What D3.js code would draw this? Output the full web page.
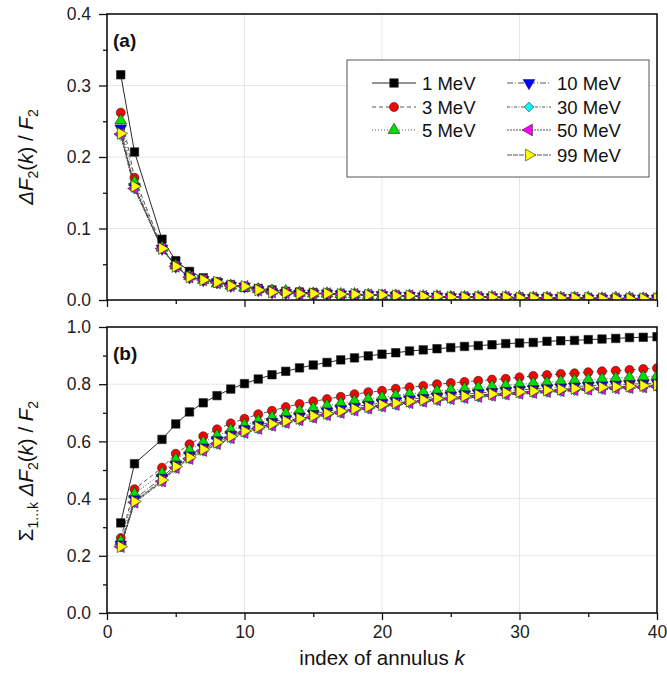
<!DOCTYPE html>
<html>
<head>
<meta charset="utf-8">
<script src="https://cdn.jsdelivr.net/npm/d3@7"></script>
<style>
  body { margin: 0; background: #fff; }
  text { font-family: Arial, "Liberation Sans", sans-serif; fill: #111; }
</style>
</head>
<body>
<div id="my_dataviz"></div>
<script>
// index of annulus (k = 3 is not in the data)
var ks = [1,2,4,5,6,7,8,9,10,11,12,13,14,15,16,17,18,19,20,21,22,23,24,25,26,27,28,29,30,31,32,33,34,35,36,37,38,39,40];

var energies = ["1 MeV","3 MeV","5 MeV","10 MeV","30 MeV","50 MeV","99 MeV"];

// panel (a): dF2(k)/F2
var dF_1  = [0.315,0.207,0.085,0.055,0.040,0.031,0.025,0.021,0.018,0.016,0.014,0.012,0.011,0.010,0.009,0.008,0.007,0.007,0.006,0.006,0.005,0.005,0.004,0.004,0.004,0.004,0.003,0.003,0.003,0.003,0.003,0.002,0.002,0.002,0.002,0.002,0.002,0.002,0.002];
var dF_3  = [0.262,0.171,0.074,0.048,0.034,0.028,0.024,0.021,0.018,0.016,0.014,0.012,0.011,0.010,0.009,0.008,0.008,0.007,0.006,0.006,0.005,0.005,0.005,0.004,0.004,0.004,0.004,0.003,0.003,0.003,0.003,0.003,0.003,0.003,0.003,0.002,0.002,0.002,0.002];
var dF_5  = [0.251,0.165,0.073,0.048,0.033,0.028,0.023,0.020,0.017,0.015,0.013,0.012,0.010,0.009,0.009,0.008,0.008,0.007,0.006,0.006,0.006,0.005,0.005,0.004,0.004,0.004,0.004,0.004,0.004,0.003,0.003,0.003,0.003,0.003,0.002,0.003,0.003,0.002,0.003];
var dF_10 = [0.240,0.158,0.072,0.047,0.032,0.028,0.025,0.020,0.019,0.014,0.011,0.010,0.009,0.009,0.009,0.008,0.008,0.007,0.007,0.006,0.006,0.005,0.005,0.004,0.004,0.004,0.004,0.004,0.003,0.003,0.003,0.003,0.003,0.002,0.002,0.002,0.002,0.002,0.002];
var dF_30 = [0.230,0.155,0.072,0.047,0.032,0.028,0.024,0.020,0.019,0.014,0.011,0.010,0.009,0.009,0.009,0.008,0.008,0.007,0.007,0.006,0.006,0.005,0.005,0.004,0.004,0.004,0.004,0.004,0.003,0.003,0.003,0.003,0.003,0.002,0.002,0.002,0.002,0.002,0.002];
var dF_50 = [0.232,0.156,0.072,0.047,0.032,0.028,0.024,0.020,0.019,0.014,0.011,0.010,0.009,0.009,0.009,0.008,0.008,0.007,0.007,0.006,0.006,0.005,0.005,0.004,0.004,0.004,0.004,0.004,0.003,0.003,0.003,0.003,0.003,0.002,0.002,0.002,0.002,0.002,0.002];
var dF_99 = [0.233,0.159,0.072,0.047,0.032,0.028,0.025,0.020,0.019,0.014,0.011,0.010,0.009,0.009,0.009,0.008,0.008,0.007,0.007,0.006,0.006,0.005,0.005,0.004,0.004,0.004,0.004,0.004,0.003,0.003,0.003,0.003,0.003,0.003,0.002,0.002,0.002,0.002,0.002];

// panel (b): sum over 1..k
var sum_1  = [0.315,0.522,0.607,0.661,0.703,0.735,0.760,0.783,0.802,0.818,0.833,0.845,0.857,0.867,0.876,0.885,0.892,0.899,0.905,0.910,0.916,0.920,0.924,0.928,0.932,0.935,0.938,0.942,0.944,0.946,0.950,0.952,0.953,0.956,0.958,0.960,0.963,0.964,0.966];
var sum_3  = [0.262,0.433,0.508,0.557,0.590,0.618,0.642,0.663,0.679,0.695,0.707,0.720,0.731,0.740,0.748,0.756,0.765,0.772,0.777,0.784,0.789,0.794,0.800,0.804,0.808,0.812,0.816,0.819,0.824,0.829,0.832,0.836,0.838,0.842,0.845,0.847,0.850,0.853,0.856];
var sum_5  = [0.251,0.416,0.489,0.537,0.569,0.597,0.620,0.640,0.657,0.672,0.685,0.697,0.707,0.716,0.725,0.733,0.741,0.748,0.754,0.760,0.766,0.771,0.776,0.780,0.784,0.788,0.792,0.796,0.800,0.803,0.806,0.810,0.813,0.816,0.818,0.821,0.824,0.826,0.829];
var sum_10 = [0.240,0.398,0.473,0.519,0.551,0.579,0.604,0.624,0.643,0.657,0.668,0.678,0.687,0.696,0.705,0.713,0.721,0.728,0.735,0.741,0.747,0.752,0.757,0.761,0.765,0.769,0.773,0.777,0.780,0.783,0.786,0.789,0.792,0.794,0.796,0.798,0.800,0.802,0.804];
var sum_30 = [0.230,0.385,0.458,0.505,0.537,0.565,0.589,0.609,0.628,0.642,0.653,0.663,0.672,0.681,0.690,0.698,0.706,0.713,0.720,0.726,0.732,0.737,0.742,0.746,0.750,0.754,0.758,0.762,0.765,0.768,0.771,0.774,0.777,0.779,0.781,0.783,0.785,0.787,0.789];
var sum_50 = [0.232,0.387,0.461,0.508,0.540,0.568,0.592,0.612,0.631,0.645,0.656,0.666,0.675,0.684,0.693,0.701,0.709,0.716,0.723,0.729,0.735,0.740,0.745,0.749,0.753,0.757,0.761,0.765,0.768,0.771,0.774,0.777,0.780,0.782,0.784,0.786,0.788,0.790,0.792];
var sum_99 = [0.232,0.390,0.465,0.512,0.544,0.572,0.597,0.617,0.636,0.650,0.661,0.671,0.680,0.689,0.698,0.706,0.714,0.721,0.728,0.734,0.740,0.745,0.750,0.754,0.758,0.762,0.766,0.770,0.773,0.776,0.779,0.782,0.785,0.787,0.789,0.791,0.793,0.795,0.797];

var xTicks = [0,10,20,30,40];
var yTicksA = [0.0,0.1,0.2,0.3,0.4];
var yTicksB = [0.0,0.2,0.4,0.6,0.8,1.0];

// look of each series
var colors = ["#000000","#ff0000","#00e000","#0000ff","#00ffff","#ff00ff","#ffff00"];
var dashes = ["none","4,3","1,2","6,2,1,2","3,1.5,1,1.5","2,1","5,1"];
var symbols = [
  {type: d3.symbolSquare, size: 72, rot: 0},
  {type: d3.symbolCircle, size: 64, rot: 0},
  {type: d3.symbolTriangle, size: 60, rot: 0},
  {type: d3.symbolTriangle, size: 60, rot: 180},
  {type: d3.symbolSquare, size: 46, rot: 45},
  {type: d3.symbolTriangle, size: 60, rot: -90},
  {type: d3.symbolTriangle, size: 60, rot: 90}
];

var dFSeries = [dF_1, dF_3, dF_5, dF_10, dF_30, dF_50, dF_99];
var sumSeries = [sum_1, sum_3, sum_5, sum_10, sum_30, sum_50, sum_99];

var W = 667, H = 678;
var left = 107, right = 657;

var svg = d3.select("#my_dataviz")
  .append("svg")
    .attr("width", W)
    .attr("height", H);

svg.append("rect").attr("width", W).attr("height", H).attr("fill", "#fff");

var x = d3.scaleLinear().domain([0, 40]).range([left, right]);
var yA = d3.scaleLinear().domain([0, 0.4]).range([300, 14]);
var yB = d3.scaleLinear().domain([0, 1]).range([613, 327]);

function drawPanel(id, y, yTicks, minorStep, series, showXLabels, tag) {
  var top = y.range()[1], bottom = y.range()[0];
  var g = svg.append("g");

  svg.append("clipPath").attr("id", "clip-" + id)
    .append("rect")
      .attr("x", left).attr("y", top)
      .attr("width", right - left).attr("height", bottom - top);

  // grid
  g.selectAll(".gx").data(xTicks.slice(1, -1)).enter().append("line")
    .attr("x1", function (d) { return x(d); }).attr("x2", function (d) { return x(d); })
    .attr("y1", top).attr("y2", bottom)
    .attr("stroke", "#e6e6e6").attr("stroke-width", 1);
  g.selectAll(".gy").data(yTicks.slice(1, -1)).enter().append("line")
    .attr("x1", left).attr("x2", right)
    .attr("y1", function (d) { return y(d); }).attr("y2", function (d) { return y(d); })
    .attr("stroke", "#e6e6e6").attr("stroke-width", 1);

  // minor ticks
  var yMax = y.domain()[1];
  var yMinor = d3.range(minorStep, yMax, minorStep * 2);
  var yMinAxis = g.append("g")
    .attr("transform", "translate(" + left + ",0)")
    .call(d3.axisLeft(y).tickValues(yMinor).tickSize(4).tickFormat(""));
  var xMinAxis = g.append("g")
    .attr("transform", "translate(0," + bottom + ")")
    .call(d3.axisBottom(x).tickValues([5,15,25,35]).tickSize(4).tickFormat(""));

  // Add Y axis
  var yAxis = g.append("g")
    .attr("transform", "translate(" + left + ",0)")
    .call(d3.axisLeft(y).tickValues(yTicks).tickSize(8).tickPadding(8)
      .tickFormat(d3.format(".1f")));
  yAxis.selectAll("text").style("font-size", "17.5px").style("fill", "#222");

  // Add X axis
  var xAxis = g.append("g")
    .attr("transform", "translate(0," + bottom + ")")
    .call(d3.axisBottom(x).tickValues(xTicks).tickSize(7).tickPadding(6)
      .tickFormat(showXLabels ? d3.format("d") : ""));
  xAxis.selectAll("text").style("font-size", "17.5px").style("fill", "#222");

  [yMinAxis, xMinAxis, yAxis, xAxis].forEach(function (a) {
    a.select(".domain").remove();
    a.selectAll("line").attr("stroke", "#111").attr("stroke-width", 1.3);
  });

  // lines and markers
  var plot = g.append("g").attr("clip-path", "url(#clip-" + id + ")");
  series.forEach(function (vals, i) {
    var pts = ks.map(function (k, j) { return [k, vals[j]]; });
    plot.append("path")
      .datum(pts)
      .attr("fill", "none")
      .attr("stroke", i == 0 ? "#111" : "#444")
      .attr("stroke-width", 0.9)
      .attr("stroke-dasharray", dashes[i])
      .attr("d", d3.line()
        .x(function (d) { return x(d[0]); })
        .y(function (d) { return y(d[1]); }));
  });
  series.forEach(function (vals, i) {
    var pts = ks.map(function (k, j) { return [k, vals[j]]; });
    var s = symbols[i];
    plot.append("g").selectAll("path")
      .data(pts).enter().append("path")
        .attr("d", d3.symbol().type(s.type).size(s.size))
        .attr("transform", function (d) {
          return "translate(" + x(d[0]) + "," + y(d[1]) + ") rotate(" + s.rot + ")";
        })
        .attr("fill", colors[i])
        .attr("stroke", "#222")
        .attr("stroke-width", 0.6);
  });

  // frame
  g.append("rect")
    .attr("x", left).attr("y", top)
    .attr("width", right - left).attr("height", bottom - top)
    .attr("fill", "none").attr("stroke", "#111").attr("stroke-width", 1.6);

  // panel tag
  g.append("text")
    .attr("x", left + 6).attr("y", top + 33)
    .style("font-size", "19px").style("font-weight", "bold")
    .text(tag);
}

drawPanel("a", yA, yTicksA, 0.05, dFSeries, false, "(a)");
drawPanel("b", yB, yTicksB, 0.1, sumSeries, true, "(b)");

// X axis label
var xLab = svg.append("text")
  .attr("x", (left + right) / 2).attr("y", 665)
  .attr("text-anchor", "middle")
  .style("font-size", "20.5px");
xLab.append("tspan").text("index of annulus ");
xLab.append("tspan").style("font-style", "italic").text("k");

// Y axis labels
function subLabel(el, parts) {
  parts.forEach(function (p) {
    var t = el.append("tspan").text(p.t);
    if (p.i) t.style("font-style", "italic");
    if (p.sub) t.attr("dy", 5).style("font-size", "14px");
    if (p.up) t.attr("dy", -5);
  });
}

var yLabA = svg.append("text")
  .attr("transform", "translate(33,157) rotate(-90)")
  .attr("text-anchor", "middle")
  .style("font-size", "20.5px");
subLabel(yLabA, [
  {t: "\u0394F", i: true}, {t: "2", sub: true}, {t: "(", up: true}, {t: "k", i: true},
  {t: ") / "}, {t: "F", i: true}, {t: "2", sub: true}
]);

var yLabB = svg.append("text")
  .attr("transform", "translate(33,471) rotate(-90)")
  .attr("text-anchor", "middle")
  .style("font-size", "20.5px");
subLabel(yLabB, [
  {t: "\u03A3"}, {t: "1...k", sub: true}, {t: " ", up: true}, {t: "\u0394F", i: true},
  {t: "2", sub: true}, {t: "(", up: true}, {t: "k", i: true},
  {t: ") / "}, {t: "F", i: true}, {t: "2", sub: true}
]);

// legend
var legend = svg.append("g");
legend.append("rect")
  .attr("x", 347).attr("y", 60).attr("width", 302).attr("height", 117)
  .attr("fill", "#fff").attr("stroke", "#555").attr("stroke-width", 1);

var rowY = [83, 107, 130, 155];
energies.forEach(function (name, i) {
  var col = i < 3 ? 0 : 1;
  var row = i < 3 ? i : i - 3;
  var x0 = col == 0 ? 372 : 507;
  var yy = rowY[row];
  var item = legend.append("g");
  item.append("line")
    .attr("x1", x0).attr("x2", x0 + 44)
    .attr("y1", yy).attr("y2", yy)
    .attr("stroke", i == 0 ? "#111" : "#444").attr("stroke-width", 0.9)
    .attr("stroke-dasharray", dashes[i]);
  var s = symbols[i];
  item.append("path")
    .attr("d", d3.symbol().type(s.type).size(s.size))
    .attr("transform", "translate(" + (x0 + 22) + "," + yy + ") rotate(" + s.rot + ")")
    .attr("fill", colors[i]).attr("stroke", "#222").attr("stroke-width", 0.6);
  item.append("text")
    .attr("x", x0 + 50).attr("y", yy + 6.5)
    .style("font-size", "18.5px")
    .text(name);
});
</script>
</body>
</html>
